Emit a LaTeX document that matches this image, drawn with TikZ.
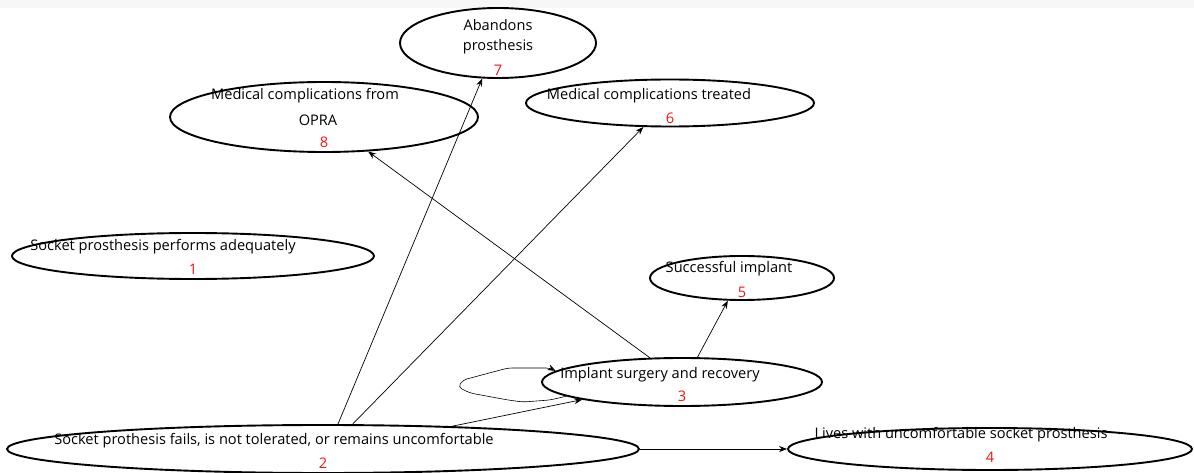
\documentclass[tikz,border=0pt]{standalone}
\usepackage{fontspec}
\setmainfont{Open Sans}
\usetikzlibrary{shapes.geometric,arrows.meta}
\definecolor{numred}{RGB}{240,20,20}
\begin{document}
\begin{tikzpicture}[x=1pt,y=-1pt,
  state/.style={draw=black,line width=1.9pt,ellipse,inner sep=0pt},
  lbl/.style={inner sep=0pt,font=\fontsize{14.6}{17}\selectfont,text=black},
  num/.style={inner sep=0pt,font=\fontsize{14.6}{17}\selectfont,text=numred},
  conn/.style={line width=0.7pt,-{Stealth[length=8pt,width=6pt]}},
  loopline/.style={line width=0.6pt,rounded corners=4pt,-{Stealth[length=8pt,width=6pt]}}]
\useasboundingbox (0,0) rectangle (1194,473);
\fill[black!3] (0,0) rectangle (1194,8);
% ellipses
\node[state,minimum width=362pt,minimum height=46pt] (n1) at (193,256) {};
\node[state,minimum width=632pt,minimum height=48pt] (n2) at (323,449) {};
\node[state,minimum width=280pt,minimum height=48pt] (n3) at (682,382) {};
\node[state,minimum width=404pt,minimum height=42pt] (n4) at (990,449) {};
\node[state,minimum width=184pt,minimum height=44pt] (n5) at (742,278) {};
\node[state,minimum width=288pt,minimum height=47pt] (n6) at (670,103) {};
\node[state,minimum width=196pt,minimum height=70pt] (n7) at (498,43) {};
\node[state,minimum width=308pt,minimum height=70pt] (n8) at (324,117) {};
% labels
\node[lbl] (t1) at (163,247) {Socket prosthesis performs adequately};
\node[num] (k1) at (193,269) {1};
\node[lbl] (t2) at (274,441) {Socket prothesis fails, is not tolerated, or remains uncomfortable};
\node[num] (k2) at (323,463) {2};
\node[lbl] (t3) at (660,375) {Implant surgery and recovery};
\node[num] (k3) at (682,396) {3};
\node[lbl] (t4) at (961,435) {Lives with uncomfortable socket prosthesis};
\node[num] (k4) at (990,457) {4};
\node[lbl] (t5) at (729,269) {Successful implant};
\node[num] (k5) at (742,292) {5};
\node[lbl] (t6) at (649,96) {Medical complications treated};
\node[num] (k6) at (670,118) {6};
\node[lbl] (t7a) at (498,25) {Abandons};
\node[lbl] (t7b) at (498,47) {prosthesis};
\node[num] (k7) at (498,70) {7};
\node[lbl] (t8a) at (305,96) {Medical complications from};
\node[lbl] (t8b) at (318,120) {OPRA};
\node[num] (k8) at (324,142) {8};
% connectors
\draw[conn] (n2.59) -- (n7.246);
\draw[conn] (n2.40) -- (n6.222);
\draw[conn] (n3.143) -- (n8.322);
\draw[conn] (n3.58) -- (n5.238);
\draw[conn] (n2.10.5) -- (n3.190);
\draw[conn] (n2.east) -- (n4.west);
\draw[loopline] (n3.187) -- (550,400) -- (523,402) -- (508,400) -- (470,393)
  -- (458,387) -- (463,380) -- (493,372) -- (508,368) -- (550,368) -- (n3.175);
\end{tikzpicture}
\end{document}
